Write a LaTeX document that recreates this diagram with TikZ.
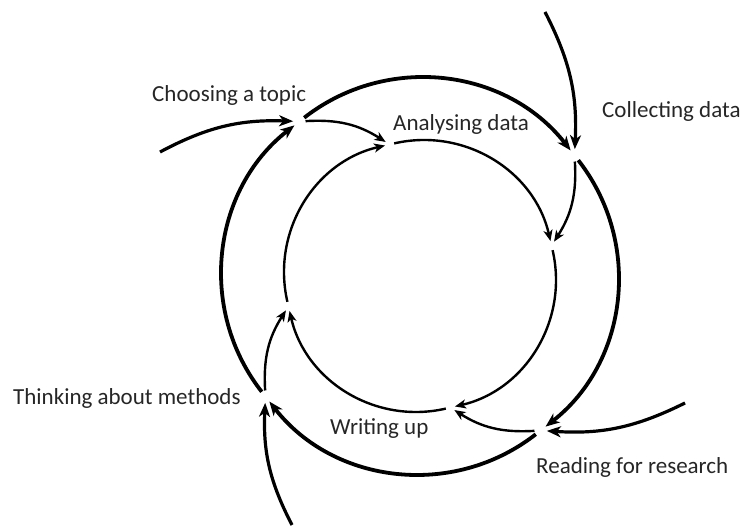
\documentclass[tikz,border=0pt]{standalone}
\usepackage{fontspec}
\setmainfont{Carlito}
\usepackage{tikz}
\usetikzlibrary{arrows.meta}
\tikzstyle{hub}=[circle,minimum size=12pt,inner sep=0pt]
\tikzstyle{Ihub}=[circle,minimum size=9pt,inner sep=0pt]
\tikzstyle{ring}=[line width=3.8pt,-{Stealth[length=14pt,width=11pt,inset=4pt]}]
\tikzstyle{feed}=[line width=3.2pt,-{Stealth[length=14pt,width=11pt,inset=4pt]}]
\tikzstyle{innerarc}=[line width=2.4pt,-{Stealth[length=11pt,width=9pt,inset=3pt]}]
\tikzstyle{stage}=[font=\fontsize{23}{27}\selectfont,text=black!85,inner sep=0pt,anchor=base west]

\begin{document}
\begin{tikzpicture}[x=1pt,y=1pt]
    \useasboundingbox (0,0) rectangle (744,532);

    % outer and inner turning points
    \begin{scope}[shift={(420,256)}]
    \node[hub] (Top)  at (128:196) {};
    \node[hub] (Col)  at (38:196)  {};
    \node[hub] (Read) at (-52:196) {};
    \node[hub] (Meth) at (218:196) {};

    \node[Ihub] (Ana) at (103:135) {};
    \node[Ihub] (In2) at (13:135)  {};
    \node[Ihub] (Wri) at (-77:135) {};
    \node[Ihub] (In4) at (193:135) {};
    \end{scope}

    \coordinate (Xtop)   at (545,520);
    \coordinate (Xright) at (685,129);
    \coordinate (Xbot)   at (292,7);
    \coordinate (Xleft)  at (160,380);

    % outer ring
    \draw[ring] (Top) to[bend left=45] (Col);
    \draw[ring] (Col) to[bend left=45] (Read);
    \draw[ring] (Read) to[bend left=45] (Meth);
    \draw[ring] (Meth) to[bend left=45] (Top);

    % arrows coming in
    \draw[feed] (Xtop) to[bend left=15] (Col);
    \draw[feed] (Xright) to[bend left=15] (Read);
    \draw[feed] (Xbot) to[bend left=15] (Meth);
    \draw[feed] (Xleft) to[bend left=15] (Top);

    % inner cycle
    \draw[innerarc] (Ana) to[bend left=45] (In2);
    \draw[innerarc] (In2) to[bend left=45] (Wri);
    \draw[innerarc] (Wri) to[bend left=45] (In4);
    \draw[innerarc] (In4) to[bend left=45] (Ana);

    \draw[innerarc] (Top) to[bend left=18] (Ana);
    \draw[innerarc] (Col) to[bend left=18] (In2);
    \draw[innerarc] (Read) to[bend left=18] (Wri);
    \draw[innerarc] (Meth) to[bend left=18] (In4);

    \node[stage] (lTop)  at (152,430) {Choosing a topic};
    \node[stage] (lAna)  at (393,401) {Analysing data};
    \node[stage] (lCol)  at (602,414) {Collecting data};
    \node[stage] (lRead) at (536,58)  {Reading for research};
    \node[stage] (lWri)  at (330,97)  {Writing up};
    \node[stage] (lMeth) at (13,127)  {Thinking about methods};
\end{tikzpicture}
\end{document}
